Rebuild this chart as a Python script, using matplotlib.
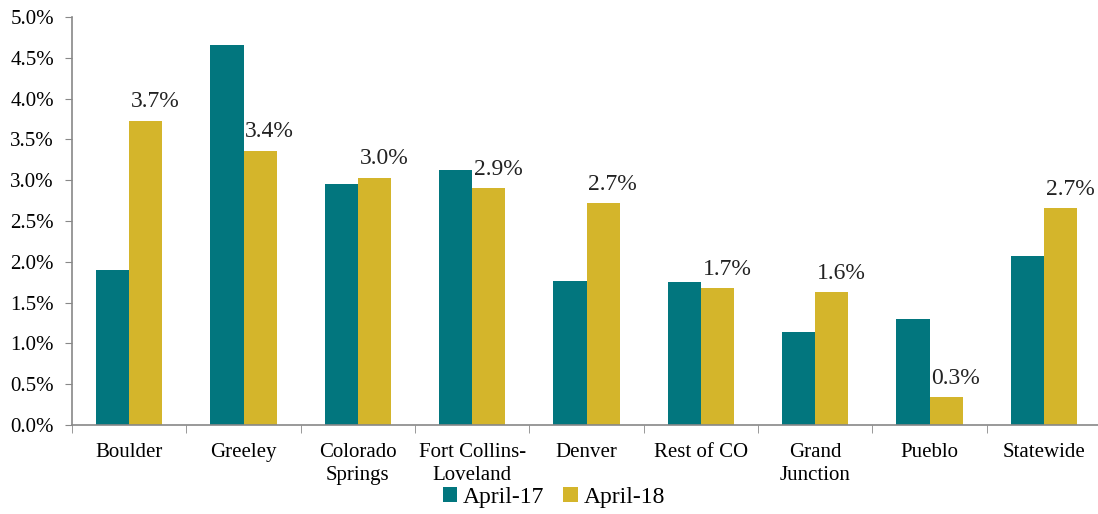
import matplotlib
matplotlib.use("Agg")
import matplotlib.pyplot as plt
import numpy as np
from matplotlib.ticker import FuncFormatter, FixedLocator

categories = ["Boulder", "Greeley", "Colorado\nSprings", "Fort Collins-\nLoveland", "Denver",
              "Rest of CO", "Grand\nJunction", "Pueblo", "Statewide"]
april17 = [1.90, 4.66, 2.95, 3.12, 1.76, 1.75, 1.14, 1.30, 2.07]
april18 = [3.73, 3.36, 3.03, 2.90, 2.72, 1.68, 1.63, 0.34, 2.66]
labels18 = ["3.7%", "3.4%", "3.0%", "2.9%", "2.7%", "1.7%", "1.6%", "0.3%", "2.7%"]

teal = "#02767E"
gold = "#D4B52B"
plt.rcParams['font.family'] = ['Liberation Serif', 'DejaVu Serif']

fig = plt.figure(figsize=(10.98, 5.14), dpi=100)
ax = fig.add_axes([72/1098, 1-425/514, (1101-72)/1098, (425-17)/514])

x = np.arange(len(categories))
w = 0.29
ax.bar(x - w/2, april17, width=w, color=teal, label="April-17")
ax.bar(x + w/2, april18, width=w, color=gold, label="April-18")

for xi, v, lab in zip(x, april18, labels18):
    ax.annotate(lab, (xi + w/2, v), xytext=(7, 6), textcoords="offset points",
                ha="center", va="bottom", fontsize=17, color="#222222")

ax.set_xlim(-0.5, len(categories) - 0.5)
ax.set_ylim(0, 5.0)
ax.set_yticks(np.arange(0, 5.01, 0.5))
ax.yaxis.set_major_formatter(FuncFormatter(lambda v, p: f"{v:.1f}%"))
ax.set_xticks(x)
ax.set_xticklabels(categories, fontsize=15)
ax.xaxis.set_minor_locator(FixedLocator(np.arange(-0.5, len(categories), 1.0)))
ax.tick_params(axis="x", which="major", length=0, pad=13)
ax.tick_params(axis="x", which="minor", length=6, color="#888888", direction="out")
ax.tick_params(axis="y", length=5, color="#888888", labelsize=15, pad=8)
for lbl in ax.get_xticklabels():
    lbl.set_linespacing(1.25)

for s in ["top", "right"]:
    ax.spines[s].set_visible(False)
for s in ["left", "bottom"]:
    ax.spines[s].set_color("#888888")
    ax.spines[s].set_linewidth(1.2)

leg = fig.legend(loc="center", bbox_to_anchor=(554/1098, 1-497/514), ncol=2, frameon=False,
                 fontsize=17, handlelength=0.6, handleheight=0.6, handletextpad=0.25,
                 columnspacing=0.8)

fig.savefig("out.png", dpi=100)
